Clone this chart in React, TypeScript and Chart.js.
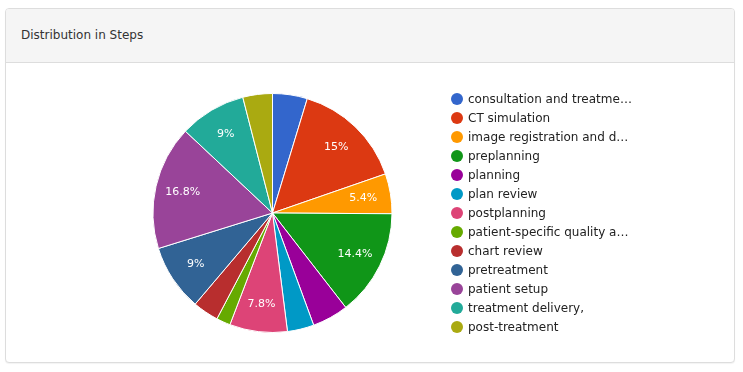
import React, { useEffect, useRef } from "react";
import { Chart, registerables } from "chart.js";

Chart.register(...registerables);

const title = "Distribution in Steps";
const categories = [
  "consultation and treatment decision",
  "CT simulation",
  "image registration and delineation",
  "preplanning",
  "planning",
  "plan review",
  "postplanning",
  "patient-specific quality assurance",
  "chart review",
  "pretreatment",
  "patient setup",
  "treatment delivery,",
  "post-treatment",
];
const values = [4.7, 15, 5.4, 14.4, 4.9, 3.6, 7.8, 1.9, 3.5, 9, 16.8, 9, 4.0];
const colors = [
  "#3366cc", "#dc3912", "#ff9900", "#109618", "#990099", "#0099c6", "#dd4477",
  "#66aa00", "#b82e2e", "#316395", "#994499", "#22aa99", "#aaaa11",
];

const FONT = "'DejaVu Sans', Verdana, sans-serif";

const overlayPlugin = {
  id: "overlay",
  afterDraw(chart: any) {
    const ctx = chart.ctx as CanvasRenderingContext2D;
    const meta = chart.getDatasetMeta(0);
    const data = chart.data.datasets[0].data as number[];
    const total = data.reduce((a, b) => a + b, 0);
    ctx.save();
    // slice labels
    ctx.font = `11px ${FONT}`;
    ctx.fillStyle = "#ffffff";
    ctx.textAlign = "center";
    ctx.textBaseline = "middle";
    meta.data.forEach((arc: any, i: number) => {
      const pct = (data[i] / total) * 100;
      if (pct < 5) return;
      const p = arc.getProps(["x", "y", "startAngle", "endAngle", "outerRadius"], true);
      const mid = (p.startAngle + p.endAngle) / 2;
      const r = p.outerRadius * 0.77;
      const txt = `${Math.round(pct * 10) / 10}%`;
      ctx.fillText(txt, p.x + Math.cos(mid) * r, p.y + Math.sin(mid) * r);
    });
    // legend
    ctx.font = `12px ${FONT}`;
    ctx.textAlign = "left";
    const lx = 457;
    const ly = 99;
    const step = 19;
    const maxW = 165;
    (chart.data.labels as string[]).forEach((lab, i) => {
      const y = ly + i * step;
      ctx.beginPath();
      ctx.arc(lx, y, 6, 0, Math.PI * 2);
      ctx.fillStyle = colors[i];
      ctx.fill();
      let t = lab;
      if (ctx.measureText(t).width > maxW) {
        while (t.length > 1 && ctx.measureText(t + "…").width > maxW) t = t.slice(0, -1);
        t = t + "…";
      }
      ctx.fillStyle = "#222222";
      ctx.fillText(t, lx + 11, y + 1);
    });
    ctx.restore();
  },
};

export default function App() {
  const ref = useRef<HTMLCanvasElement>(null);
  useEffect(() => {
    if (!ref.current) return;
    const chart = new Chart(ref.current, {
      type: "pie",
      data: {
        labels: categories,
        datasets: [
          {
            data: values,
            backgroundColor: colors,
            borderColor: "#ffffff",
            borderWidth: 1,
          },
        ],
      },
      options: {
        animation: false,
        responsive: false,
        maintainAspectRatio: false,
        layout: { padding: { left: 152, right: 350, top: 93, bottom: 39 } },
        plugins: { legend: { display: false }, tooltip: { enabled: false } },
      },
      plugins: [overlayPlugin],
    });
    return () => chart.destroy();
  }, []);

  return (
    <div style={{ position: "absolute", left: 0, top: 0, width: 743, height: 372, background: "#fff" }}>
      <div
        style={{
          position: "absolute",
          left: 5,
          top: 8,
          width: 728,
          height: 353,
          border: "1px solid #dddddd",
          borderRadius: 4,
          boxShadow: "0 1px 1px rgba(0,0,0,0.05)",
          background: "#fff",
          overflow: "hidden",
        }}
      >
        <div
          style={{
            height: 53,
            background: "#f5f5f5",
            borderBottom: "1px solid #dddddd",
            boxSizing: "content-box",
          }}
        >
          <div
            style={{
              position: "absolute",
              left: 15,
              top: 19,
              font: `12px ${FONT}`,
              color: "#333",
            }}
          >
            {title}
          </div>
        </div>
      </div>
      <canvas
        ref={ref}
        width={743}
        height={372}
        style={{ position: "absolute", left: 0, top: 0, width: 743, height: 372 }}
      />
    </div>
  );
}
